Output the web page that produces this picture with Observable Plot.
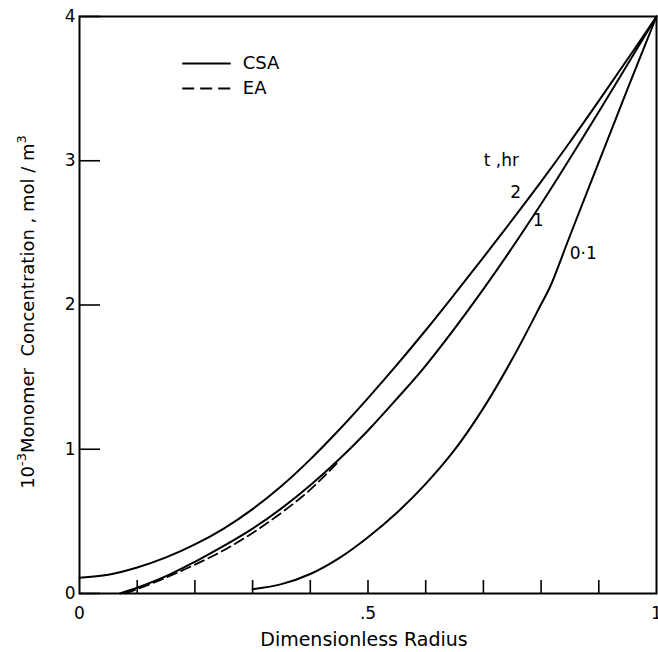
<!DOCTYPE html>
<html><head><meta charset="utf-8">
<script src="https://cdn.jsdelivr.net/npm/d3@7"></script>
<script src="https://cdn.jsdelivr.net/npm/@observablehq/plot@0.6"></script>
<style>html,body{margin:0;padding:0;background:#fff}</style>
</head><body><div id="chart"></div>
<script>
// Curve values (x = dimensionless radius, y = 10^-3 monomer concentration, mol/m^3)
const seriesNames = ["2", "1", "0·1"];
const radiusT2 = [0, 0.05, 0.1, 0.15, 0.2, 0.25, 0.3, 0.35, 0.4, 0.45, 0.5, 0.55, 0.6, 0.65, 0.7, 0.75, 0.8, 0.85, 0.9, 0.95, 1];
const concT2   = [0.11, 0.13, 0.18, 0.25, 0.34, 0.45, 0.585, 0.745, 0.93, 1.135, 1.355, 1.585, 1.825, 2.075, 2.33, 2.59, 2.855, 3.13, 3.415, 3.705, 4];
const radiusT1 = [0.07, 0.1, 0.15, 0.2, 0.25, 0.3, 0.35, 0.4, 0.45, 0.5, 0.55, 0.6, 0.7, 0.8, 0.9, 1];
const concT1   = [0, 0.04, 0.12, 0.22, 0.33, 0.45, 0.59, 0.75, 0.93, 1.13, 1.35, 1.58, 2.11, 2.7, 3.34, 4];
const radiusT01 = [0.3, 0.35, 0.4, 0.45, 0.5, 0.55, 0.6, 0.65, 0.7, 0.75, 0.8, 0.816, 0.85, 0.9, 0.95, 1];
const concT01   = [0.03, 0.065, 0.135, 0.245, 0.39, 0.56, 0.76, 0.995, 1.285, 1.625, 2.005, 2.13, 2.48, 2.99, 3.5, 4];
const radiusEA = [0.08, 0.1, 0.15, 0.2, 0.25, 0.3, 0.35, 0.4, 0.45];
const concEA   = [0, 0.03, 0.11, 0.2, 0.3, 0.42, 0.56, 0.72, 0.92];

const xTicks = [0.1, 0.2, 0.3, 0.4, 0.5, 0.6, 0.7, 0.8, 0.9];
const xTickLabelValues = [0, 0.5, 1];
const xTickLabels = ["0", ".5", "1"];
const yTicks = [0, 1, 2, 3, 4];
const yTickLabels = ["0", "1", "2", "3", "4"];
const legendLabels = ["CSA", "EA"];
const xTitle = "Dimensionless Radius";
const yTitleParts = ["10", "-3", "Monomer  Concentration , mol / m", "3"];
const timeHeader = "t\u00a0,hr";

const csaRows = [];
[[radiusT2, concT2], [radiusT1, concT1], [radiusT01, concT01]].forEach(([xs, ys], k) => {
  xs.forEach((r, i) => csaRows.push({series: seriesNames[k], r, c: ys[i]}));
});
const eaRows = radiusEA.map((r, i) => ({r, c: concEA[i]}));

const font = "DejaVu Sans";

const plot = Plot.plot({
  width: 658, height: 652,
  marginLeft: 79, marginRight: 2, marginTop: 16, marginBottom: 59,
  x: {domain: [0, 1], axis: null},
  y: {domain: [0, 4], axis: null},
  style: {fontFamily: font, fontSize: "16px", color: "#000", background: "#fff", overflow: "visible"},
  marks: [
    Plot.frame({stroke: "#000", strokeWidth: 2}),
    Plot.ruleX(xTicks, {x: d => d, y1: 0, y2: 0, insetTop: -13, stroke: "#000", strokeWidth: 1.6}),
    Plot.ruleY(yTicks, {y: d => d, x1: 0, x2: 0, insetRight: -21, stroke: "#000", strokeWidth: 1.6}),
    Plot.text(xTickLabels, {x: (d, i) => xTickLabelValues[i], y: 0, text: d => d, dy: 20, fontSize: 17, fill: "#000"}),
    Plot.text(yTickLabels, {x: 0, y: (d, i) => yTicks[i], text: d => d, textAnchor: "end", dx: -4, fontSize: 17, fill: "#000"}),
    Plot.text([xTitle], {frameAnchor: "bottom", text: d => d, dy: 52, dx: -4, fontSize: 19, fill: "#000"}),
    Plot.text([yTitleParts.join("")], {frameAnchor: "left", textAnchor: "middle", text: d => d, rotate: -90, dx: -51, dy: 7, fontSize: 18, fill: "#000", className: "ytitle"}),
    Plot.line(csaRows, {x: "r", y: "c", z: "series", curve: "catmull-rom", stroke: "#000", strokeWidth: 2}),
    Plot.line(eaRows, {x: "r", y: "c", curve: "catmull-rom", stroke: "#000", strokeWidth: 1.8, strokeDasharray: "10,5"}),
    // legend
    Plot.link(legendLabels.slice(0, 1), {x1: 0.178, x2: 0.262, y1: 3.674, y2: 3.674, stroke: "#000", strokeWidth: 2}),
    Plot.link(legendLabels.slice(1, 2), {x1: 0.178, x2: 0.262, y1: 3.501, y2: 3.501, stroke: "#000", strokeWidth: 2, strokeDasharray: "12,6"}),
    Plot.text(legendLabels, {x: 0.283, y: (d, i) => 3.674 - i * 0.173, text: d => d, textAnchor: "start", fontSize: 18, fill: "#000"}),
    // curve labels
    Plot.text([timeHeader], {x: 0.731, y: 3.0, text: d => d, fontSize: 17, fill: "#000"}),
    Plot.text(seriesNames, {x: (d, i) => [0.756, 0.795, 0.873][i], y: (d, i) => [2.78, 2.586, 2.357][i], text: d => d, fontSize: 17, fill: "#000"})
  ]
});
document.getElementById("chart").appendChild(plot);

// turn the y title into text with real superscripts
const yt = plot.querySelector("g.ytitle text");
if (yt) {
  yt.textContent = "";
  const ns = "http://www.w3.org/2000/svg";
  const specs = [[yTitleParts[0], 0, null], [yTitleParts[1], -8, 13], [yTitleParts[2], 8, null], [yTitleParts[3], -8, 13]];
  specs.forEach(([t, dy, size]) => {
    const ts = document.createElementNS(ns, "tspan");
    ts.textContent = t;
    if (dy) ts.setAttribute("dy", dy);
    if (size) ts.setAttribute("font-size", size);
    ts.style.whiteSpace = "pre";
    yt.appendChild(ts);
  });
  yt.style.whiteSpace = "pre";
}
</script>
</body></html>
